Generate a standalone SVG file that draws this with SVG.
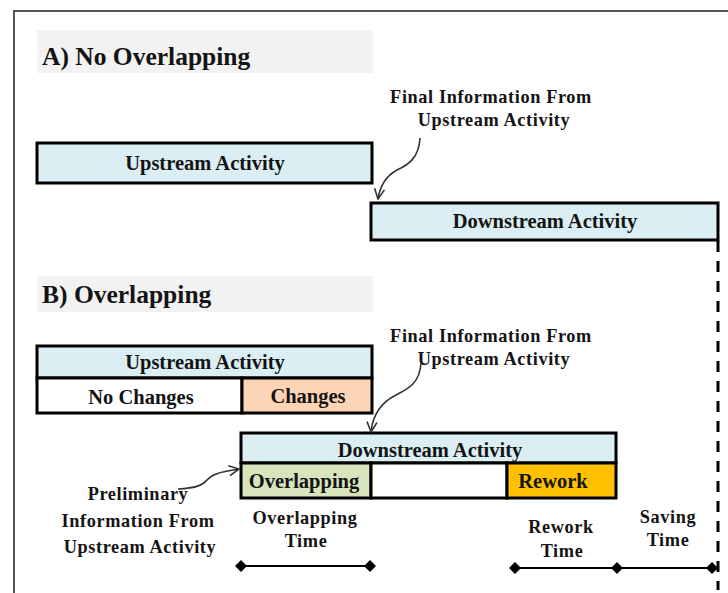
<svg xmlns="http://www.w3.org/2000/svg" width="728" height="593" viewBox="0 0 728 593">
<style>
text{font-family:"Liberation Serif","Times New Roman",serif;font-weight:bold;fill:#141414;}
.t{font-size:25.5px;}
.b{font-size:20.5px;text-anchor:middle;}
.l{font-size:18.3px;text-anchor:middle;letter-spacing:0.6px;}
.box{stroke:#000;stroke-width:3;}
.conn{fill:none;stroke:#333;stroke-width:1.6;}
.tl{stroke:#000;stroke-width:2;}
</style>
<defs>
<marker id="ah" viewBox="0 0 12 12" refX="11" refY="6" markerWidth="12" markerHeight="12" markerUnits="userSpaceOnUse" orient="auto">
<path d="M1,1 L11,6 L1,11" fill="none" stroke="#333" stroke-width="1.6"/>
</marker>
<marker id="dm" viewBox="0 0 12 12" refX="6" refY="6" markerWidth="12" markerHeight="12" markerUnits="userSpaceOnUse">
<path d="M0,6 L6,0 L12,6 L6,12 Z" fill="#000"/>
</marker>
</defs>
<rect width="728" height="593" fill="#fff"/>
<path d="M14,593 V11 H728" fill="none" stroke="#555" stroke-width="2"/>

<g id="headerA">
<rect x="37" y="30" width="336" height="43" fill="#f2f2f2"/>
<text class="t" x="42" y="65">A) No Overlapping</text>
</g>
<g id="upstreamA">
<rect class="box" x="37" y="143" width="335" height="40" fill="#daeef3"/>
<text class="b" x="205" y="170">Upstream Activity</text>
</g>
<g id="downstreamA">
<rect class="box" x="371" y="203" width="347" height="37" fill="#daeef3"/>
<text class="b" x="545" y="228">Downstream Activity</text>
</g>
<g id="finalInfoA">
<text class="l" x="491" y="103">Final Information From</text>
<text class="l" x="494" y="126">Upstream Activity</text>
</g>

<g id="headerB">
<rect x="37" y="276" width="336" height="36" fill="#f2f2f2"/>
<text class="t" x="42" y="303">B) Overlapping</text>
</g>
<g id="upstreamB">
<rect class="box" x="37" y="346" width="335" height="32" fill="#daeef3"/>
<rect class="box" x="37" y="378" width="205" height="35" fill="#fff"/>
<rect class="box" x="242" y="378" width="130" height="35" fill="#fbd5b5"/>
<text class="b" x="205" y="369">Upstream Activity</text>
<text class="b" x="141" y="404">No Changes</text>
<text class="b" x="308" y="403">Changes</text>
</g>
<g id="finalInfoB">
<text class="l" x="491" y="342">Final Information From</text>
<text class="l" x="494" y="365">Upstream Activity</text>
</g>
<g id="downstreamB">
<rect class="box" x="241" y="433" width="375" height="30" fill="#daeef3"/>
<rect class="box" x="241" y="463" width="130" height="35" fill="#d7e4bc"/>
<rect class="box" x="371" y="463" width="136" height="35" fill="#fff"/>
<rect class="box" x="507" y="463" width="109" height="35" fill="#ffc000"/>
<text class="b" x="430" y="457">Downstream Activity</text>
<text class="b" x="304" y="488">Overlapping</text>
<text class="b" x="553" y="488">Rework</text>
</g>
<g id="preliminary">
<text class="l" x="138" y="500">Preliminary</text>
<text class="l" x="138" y="527">Information From</text>
<text class="l" x="140" y="553">Upstream Activity</text>
</g>
<g id="overlappingTime">
<text class="l" x="305" y="524">Overlapping</text>
<text class="l" x="306" y="547">Time</text>
</g>
<g id="reworkTime">
<text class="l" x="561" y="533">Rework</text>
<text class="l" x="562" y="557">Time</text>
</g>
<g id="savingTime">
<text class="l" x="668" y="523">Saving</text>
<text class="l" x="668" y="546">Time</text>
</g>

<g id="connectors">
<path class="conn" d="M420,138 C419,158 408,165 397,170 C386,176 380,186 378,199" marker-end="url(#ah)"/>
<path class="conn" d="M421,363 C420,383 408,389 396,395 C384,401 373,412 371,432" marker-end="url(#ah)"/>
<path class="conn" d="M178,489 C195,488 202,486 207,480 C213,473 222,472 239,469" marker-end="url(#ah)"/>
<path d="M718,241 V590" stroke="#000" stroke-width="3" stroke-dasharray="11,9" fill="none"/>
<path class="tl" d="M241,566 H370" marker-start="url(#dm)" marker-end="url(#dm)"/>
<path class="tl" d="M515,568 H617" marker-start="url(#dm)" marker-end="url(#dm)"/>
<path class="tl" d="M617,568 H712" marker-end="url(#dm)"/>
</g>
</svg>
